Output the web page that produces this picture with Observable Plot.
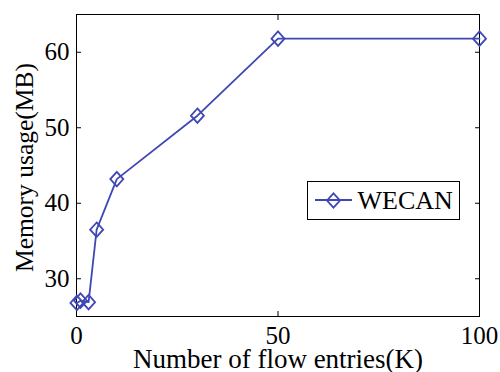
<!DOCTYPE html>
<html><head><meta charset="utf-8">
<script src="https://cdn.jsdelivr.net/npm/d3@7"></script>
<script src="https://cdn.jsdelivr.net/npm/@observablehq/plot@0.6"></script>
<style>body{margin:0;background:#fff}#chart{position:relative;width:500px;height:372px}</style>
</head><body><div id="chart"></div>
<script>
const flowEntries = [0.1, 1, 3, 5, 10, 30, 50, 100];
const memoryMB = [26.8, 27.1, 26.9, 36.5, 43.2, 51.6, 61.8, 61.8];
const xTicks = [0, 50, 100];
const yTicks = [30, 40, 50, 60];
const seriesName = "WECAN";
const xLabel = "Number of flow entries(K)";
const yLabel = "Memory usage(MB)";

const data = flowEntries.map((x, i) => ({x, y: memoryMB[i]}));
const color = "#3f47b5";
const font = "'Liberation Serif', 'Times New Roman', serif";
const diamond = {draw(ctx) { const w = 6.5, h = 7.2; ctx.moveTo(0, -h); ctx.lineTo(w, 0); ctx.lineTo(0, h); ctx.lineTo(-w, 0); ctx.closePath(); }};
const noText = () => "";

const plot = Plot.plot({
  width: 500, height: 372,
  marginLeft: 76, marginRight: 21, marginTop: 14, marginBottom: 56,
  style: {fontFamily: font, background: "white", color: "black"},
  x: {domain: [0, 100], label: null},
  y: {domain: [25, 65], label: null},
  marks: [
    Plot.axisX({ticks: xTicks, tickSize: 0, tickPadding: 10, fontSize: 25, label: null}),
    Plot.axisX({ticks: xTicks, tickSize: 5, dy: -5, tickFormat: noText, label: null}),
    Plot.axisX({anchor: "top", ticks: xTicks, tickSize: 5, dy: 5, tickFormat: noText, label: null}),
    Plot.axisY({ticks: yTicks, tickSize: 0, tickPadding: 7, fontSize: 25, label: null}),
    Plot.axisY({ticks: yTicks, tickSize: 5, dx: 5, tickFormat: noText, label: null}),
    Plot.axisY({anchor: "right", ticks: yTicks, tickSize: 5, dx: -5, tickFormat: noText, label: null}),
    Plot.frame({stroke: "black", strokeWidth: 1}),
    Plot.line(data, {x: "x", y: "y", stroke: color, strokeWidth: 1.8}),
    Plot.dot(data, {x: "x", y: "y", symbol: diamond, r: 5, stroke: color, strokeWidth: 1.8, fill: "none"}),
    Plot.text([xLabel], {text: d => d, frameAnchor: "bottom", textAnchor: "middle", lineAnchor: "bottom", dy: 51.5, fontSize: 27}),
    Plot.text([yLabel], {text: d => d, frameAnchor: "left", textAnchor: "middle", lineAnchor: "middle", rotate: -90, dx: -52, dy: 2, fontSize: 25.5}),
    Plot.frame({insetLeft: 231, insetRight: 20, insetTop: 167, insetBottom: 97, stroke: "black", strokeWidth: 1, fill: "white"}),
    Plot.dot([seriesName], {frameAnchor: "top-left", dx: 257, dy: 186, symbol: diamond, r: 5, stroke: color, strokeWidth: 1.8, fill: "none"}),
    Plot.text([seriesName], {text: d => d, frameAnchor: "top-left", dx: 281, dy: 186, textAnchor: "start", lineAnchor: "middle", fontSize: 26})
  ]
});
document.getElementById("chart").appendChild(plot);
d3.select(plot).append("line")
  .attr("x1", 315).attr("x2", 352).attr("y1", 200).attr("y2", 200)
  .attr("stroke", color).attr("stroke-width", 1.8);
</script>
</body></html>
